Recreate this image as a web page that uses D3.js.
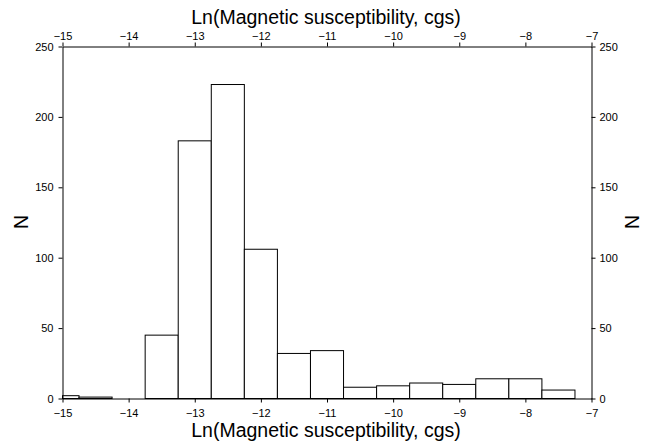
<!DOCTYPE html>
<html>
<head>
<meta charset="utf-8">
<script src="https://d3js.org/d3.v7.min.js"></script>
<style>
  body { margin: 0; background: #fff; }
  svg text { font-family: Arial, "Liberation Sans", sans-serif; fill: #000; }
</style>
</head>
<body>
<div id="chart"></div>
<script>
// histogram bins (centre of each 0.5 wide bin) and counts
var binCenters = [-15, -14.5, -14, -13.5, -13, -12.5, -12, -11.5, -11, -10.5, -10, -9.5, -9, -8.5, -8, -7.5];
var counts     = [2, 1, 0, 45, 183, 223, 106, 32, 34, 8, 9, 11, 10, 14, 14, 6];
var binWidth = 0.5;

var xTicks = [-15, -14, -13, -12, -11, -10, -9, -8, -7];
var yTicks = [0, 50, 100, 150, 200, 250];
var axisTitle = "Ln(Magnetic susceptibility, cgs)";

var W = 651, H = 446;
var svg = d3.select("#chart").append("svg")
  .attr("width", W).attr("height", H);

var x = d3.scaleLinear().domain([-15, -7]).range([62.5, 591.5]);
var y = d3.scaleLinear().domain([0, 250]).range([398.5, 46.5]);

var bins = binCenters.map(function(c, i) {
  return {
    x0: Math.max(c - binWidth / 2, -15),
    x1: Math.min(c + binWidth / 2, -7),
    n: counts[i]
  };
}).filter(function(d) { return d.n > 0; });

// bars
svg.append("g").selectAll("rect")
  .data(bins)
  .enter().append("rect")
    .attr("x", function(d) { return x(d.x0); })
    .attr("y", function(d) { return y(d.n); })
    .attr("width", function(d) { return x(d.x1) - x(d.x0); })
    .attr("height", function(d) { return y(0) - y(d.n); })
    .attr("fill", "#fff")
    .attr("stroke", "#000")
    .attr("stroke-width", 1);

function styleAxis(g) {
  g.select(".domain").attr("stroke", "#000");
  g.selectAll(".tick line").attr("stroke", "#000");
  g.selectAll(".tick text").style("font-size", "11px").attr("fill", "#000");
}

// axes
svg.append("g")
  .attr("transform", "translate(0," + y(0) + ")")
  .call(d3.axisBottom(x).tickValues(xTicks).tickSize(4).tickSizeOuter(0).tickPadding(7))
  .call(styleAxis);

svg.append("g")
  .attr("transform", "translate(0," + y(250) + ")")
  .call(d3.axisTop(x).tickValues(xTicks).tickSize(4).tickSizeOuter(0).tickPadding(3))
  .call(styleAxis);

svg.append("g")
  .attr("transform", "translate(" + x(-15) + ",0)")
  .call(d3.axisLeft(y).tickValues(yTicks).tickSize(4).tickSizeOuter(0).tickPadding(5))
  .call(styleAxis);

svg.append("g")
  .attr("transform", "translate(" + x(-7) + ",0)")
  .call(d3.axisRight(y).tickValues(yTicks).tickSize(4).tickSizeOuter(0).tickPadding(4))
  .call(styleAxis);

// titles
svg.append("text")
  .attr("x", 326).attr("y", 24)
  .attr("text-anchor", "middle")
  .style("font-size", "19.5px")
  .text(axisTitle);

svg.append("text")
  .attr("x", 326).attr("y", 437)
  .attr("text-anchor", "middle")
  .style("font-size", "19.5px")
  .text(axisTitle);

svg.append("text")
  .attr("transform", "translate(28,222) rotate(-90)")
  .attr("text-anchor", "middle")
  .style("font-size", "19.5px")
  .text("N");

svg.append("text")
  .attr("transform", "translate(625,222) rotate(90)")
  .attr("text-anchor", "middle")
  .style("font-size", "19.5px")
  .text("N");
</script>
</body>
</html>
